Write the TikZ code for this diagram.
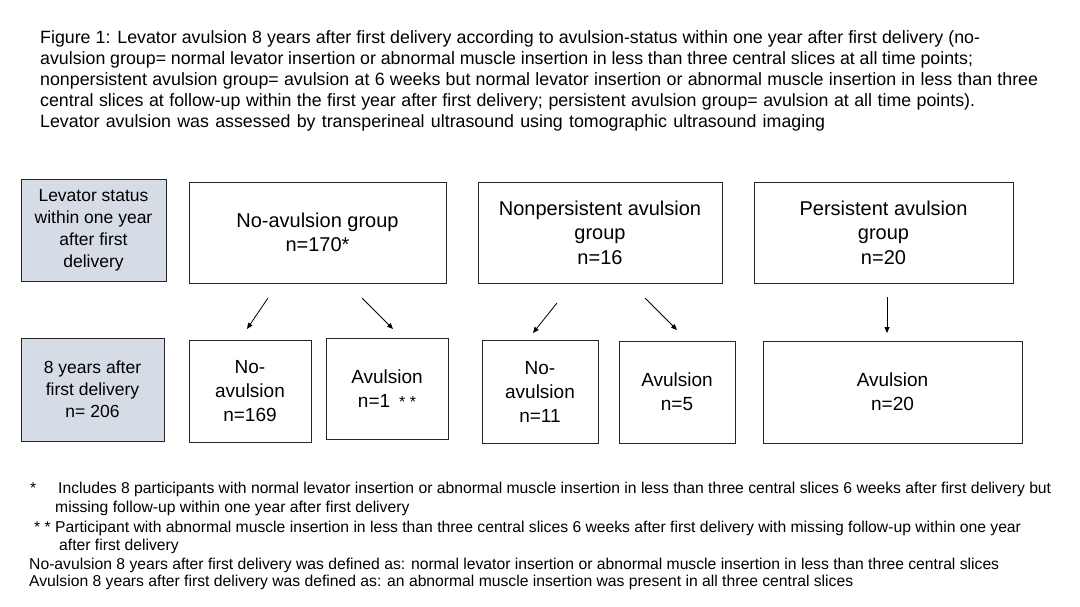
\documentclass[tikz,border=0pt]{standalone}
\usepackage{fontspec}
\setmainfont{Liberation Sans}
\usetikzlibrary{arrows.meta}
\definecolor{boxgray}{HTML}{D6DCE5}
\definecolor{edge}{HTML}{262626}
\newlength{\caplen}
\newcommand{\capline}[2]{\begingroup\spaceskip=0.278em plus 0.8em minus 0.13em\relax\setlength{\caplen}{#1pt}\makebox[\caplen][s]{#2}\endgroup}
\begin{document}
\begin{tikzpicture}[x=1pt,y=-1pt,
  captxt/.style={anchor=base west, inner sep=0pt, font=\fontsize{17.8}{21}\selectfont},
  fntxt/.style={anchor=base west, inner sep=0pt, font=\fontsize{15.7}{19}\selectfont},
  bigbox/.style={draw=edge, line width=0.9pt, align=center, inner sep=0pt, minimum height=101pt, font=\fontsize{20}{24.5}\selectfont},
  smallbox/.style={draw=edge, line width=0.9pt, align=center, inner sep=0pt, minimum height=102pt, font=\fontsize{19}{24}\selectfont},
  graybox/.style={draw=edge, fill=boxgray, line width=0.9pt, align=center, inner sep=0pt, font=\fontsize{17.5}{22}\selectfont},
  arr/.style={draw=black, line width=0.8pt, -{Triangle[length=6pt,width=5pt]}}
]
\useasboundingbox (0,0) rectangle (1080,607);

% caption
\node[captxt] (c1) at (40,44) {\capline{940}{Figure 1: Levator avulsion 8 years after first delivery according to avulsion-status within one year after first delivery (no-}};
\node[captxt] (c2) at (40,65) {\capline{933}{avulsion group= normal levator insertion or abnormal muscle insertion in less than three central slices at all time points;}};
\node[captxt] (c3) at (40,86) {\capline{998}{nonpersistent avulsion group= avulsion at 6 weeks but normal levator insertion or abnormal muscle insertion in less than three}};
\node[captxt] (c4) at (40,107) {\capline{935}{central slices at follow-up within the first year after first delivery; persistent avulsion group= avulsion at all time points).}};
\node[captxt] (c5) at (40,128) {\capline{785}{Levator avulsion was assessed by transperineal ultrasound using tomographic ultrasound imaging}};

% top row
\node[graybox, minimum width=145pt, minimum height=102pt] (g1) at (93.5,230) {Levator status\\within one year\\after first\\delivery};
\node[bigbox, minimum width=257pt] (t1) at (317.5,232.5) {No-avulsion group\\n=170*};
\node[bigbox, minimum width=244pt] (t2) at (600,232.5) {Nonpersistent avulsion\\group\\n=16};
\node[bigbox, minimum width=259pt] (t3) at (883.5,232.5) {Persistent avulsion\\group\\n=20};

% bottom row
\node[graybox, minimum width=143pt, minimum height=103pt] (g2) at (92.5,389.5) {8 years after\\first delivery\\n= 206};
\node[smallbox, minimum width=122pt] (b1) at (250,391) {No-\\avulsion\\n=169};
\node[smallbox, minimum width=122pt, minimum height=101pt] (b2) at (387,388.5) {Avulsion\\n=1{\fontsize{16}{16}\selectfont\ \ * *}};
\node[smallbox, minimum width=116pt, minimum height=103pt] (b3) at (540,391.5) {No-\\avulsion\\n=11};
\node[smallbox, minimum width=116pt] (b4) at (677,392) {Avulsion\\n=5};
\node[smallbox, minimum width=259pt] (b5) at (892.5,392) {Avulsion\\n=20};

% arrows
\coordinate (a1s) at (268,298); \coordinate (a1e) at (247,329);
\coordinate (a2s) at (362,298); \coordinate (a2e) at (393,329);
\coordinate (a3s) at (557,303); \coordinate (a3e) at (533,333);
\coordinate (a4s) at (645,298); \coordinate (a4e) at (677,330);
\coordinate (a5s) at (887,297); \coordinate (a5e) at (887,333);
\draw[arr] (a1s) -- (a1e);
\draw[arr] (a2s) -- (a2e);
\draw[arr] (a3s) -- (a3e);
\draw[arr] (a4s) -- (a4e);
\draw[arr] (a5s) -- (a5e);

% footnotes
\node[fntxt] (f1s) at (30,493) {*};
\node[fntxt] (f1) at (58,493) {Includes 8 participants with normal levator insertion or abnormal muscle insertion in less than three central slices 6 weeks after first delivery but};
\node[fntxt] (f2) at (55,512) {missing follow-up within one year after first delivery};
\node[fntxt] (f3) at (34,532) {* * Participant with abnormal muscle insertion in less than three central slices 6 weeks after first delivery with missing follow-up within one year};
\node[fntxt] (f4) at (59,550) {after first delivery};
\node[fntxt] (f5) at (29,569) {No-avulsion 8 years after first delivery was defined as: normal levator insertion or abnormal muscle insertion in less than three central slices};
\node[fntxt] (f6) at (29,586) {Avulsion 8 years after first delivery was defined as: an abnormal muscle insertion was present in all three central slices};
\end{tikzpicture}
\end{document}
